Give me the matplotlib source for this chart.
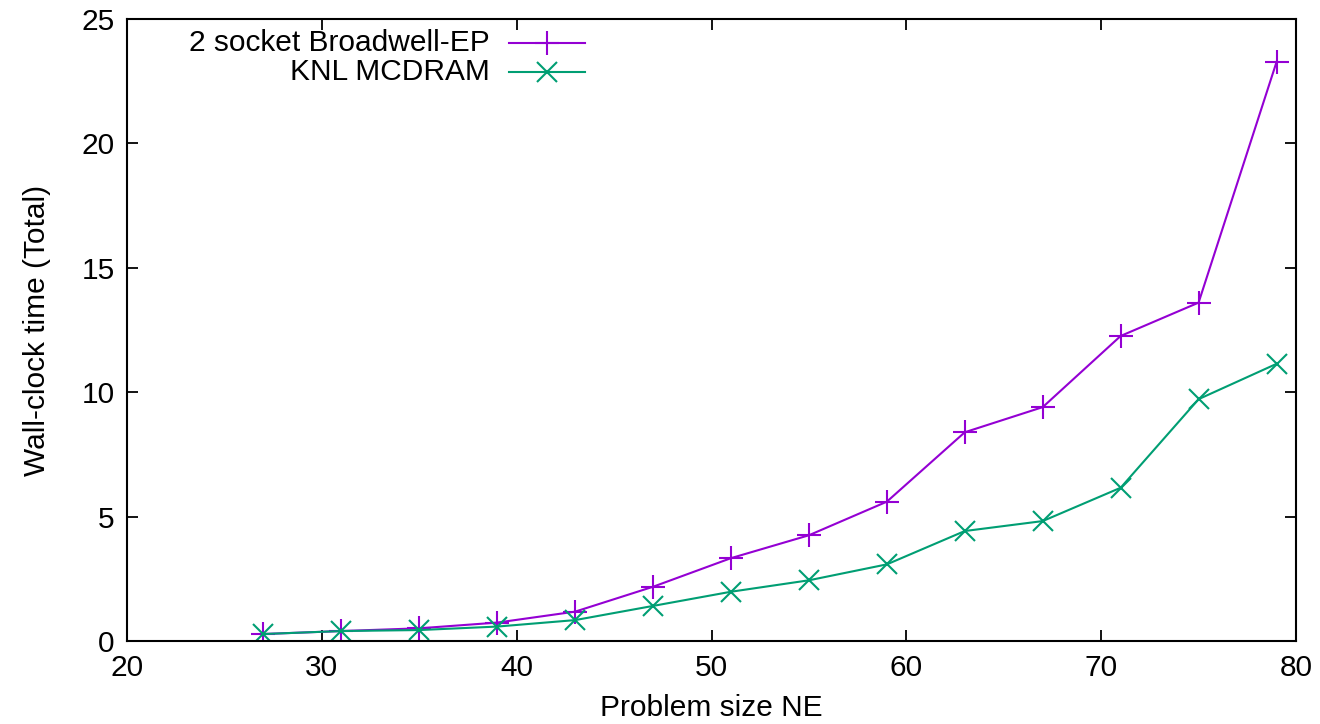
import matplotlib
matplotlib.use("Agg")
import matplotlib.pyplot as plt
from matplotlib.lines import Line2D

ne = [27, 31, 35, 39, 43, 47, 51, 55, 59, 63, 67, 71, 75, 79]
broadwell = [0.28, 0.40, 0.51, 0.74, 1.18, 2.18, 3.33, 4.25, 5.60, 8.39, 9.40, 12.26, 13.60, 23.27]
knl = [0.28, 0.40, 0.44, 0.58, 0.84, 1.41, 1.98, 2.44, 3.08, 4.42, 4.82, 6.16, 9.72, 11.14]
labels = ["2 socket Broadwell-EP", "KNL MCDRAM"]
xticks = [20, 30, 40, 50, 60, 70, 80]
yticks = [0, 5, 10, 15, 20, 25]

plt.rcParams['font.family'] = ['Liberation Sans', 'DejaVu Sans']
plt.rcParams['font.size'] = 21.5

fig = plt.figure(figsize=(13.2, 7.24), dpi=100)
ax = fig.add_axes([127/1320, 1-641/724, (1296-127)/1320, (641-19)/724])

c1 = '#9400D3'
c2 = '#009E73'
ax.plot(ne, broadwell, color=c1, lw=1.5, marker='+', ms=17, mew=1.5)
ax.plot(ne, knl, color=c2, lw=1.5, marker='x', ms=15, mew=1.5)

ax.set_xlim(20, 80)
ax.set_ylim(0, 25)
ax.set_xticks(xticks)
ax.set_yticks(yticks)
ax.tick_params(direction='in', length=8, width=1.3, top=True, right=True, pad=9)
for s in ax.spines.values():
    s.set_linewidth(1.5)
ax.set_xlabel("Problem size NE", labelpad=9)
ax.set_ylabel("Wall-clock time (Total)", labelpad=22)

# key (gnuplot style: right-aligned text, sample to its right)
rows = [(0.961, c1, '+', 17), (0.915, c2, 'x', 15)]
for (yy, c, m, ms), lab in zip(rows, labels):
    ax.text(0.3105, yy, lab, transform=ax.transAxes, ha='right', va='center')
    ax.add_line(Line2D([0.327, 0.392], [yy, yy], transform=ax.transAxes, color=c, lw=1.5))
    ax.add_line(Line2D([0.3595], [yy], transform=ax.transAxes, color=c, marker=m, ms=ms, mew=1.5, lw=0))

fig.savefig("out.png", dpi=100)
